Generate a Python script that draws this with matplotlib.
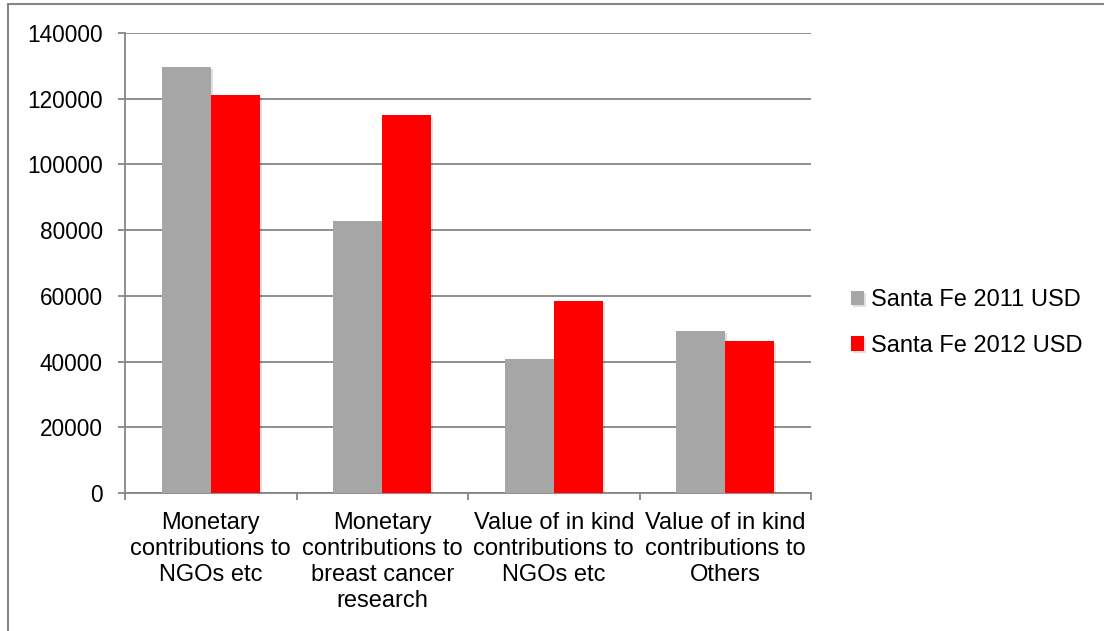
import matplotlib
matplotlib.use("Agg")
import matplotlib.pyplot as plt
import matplotlib.patheffects as pe
from matplotlib.patches import Rectangle
import numpy as np

categories = [
    "Monetary\ncontributions to\nNGOs etc",
    "Monetary\ncontributions to\nbreast cancer\nresearch",
    "Value of in kind\ncontributions to\nNGOs etc",
    "Value of in kind\ncontributions to\nOthers",
]
series_names = ["Santa Fe 2011 USD", "Santa Fe 2012 USD"]
values_2011 = [129800, 82700, 40700, 49300]
values_2012 = [121250, 114900, 58550, 46200]
colors = ["#a6a6a6", "#ff0000"]

grid_color = "#868686"
font = ["Liberation Sans", "DejaVu Sans"]

fig = plt.figure(figsize=(11.04, 6.31), dpi=100)
W, H = 1104, 631
ax = fig.add_axes([125 / W, (H - 493) / H, 686 / W, 460 / H])

x = np.arange(len(categories))
bw = 1 / 3.5
shadow = [pe.SimplePatchShadow(offset=(1.5, -1.5), shadow_rgbFace="#000000", alpha=0.12), pe.Normal()]
for i, (vals, name) in enumerate(zip([values_2011, values_2012], series_names)):
    bars = ax.bar(x + (i - 0.5) * bw, vals, width=bw, color=colors[i], label=name, zorder=3)
    for b in bars:
        b.set_path_effects(shadow)

ax.set_xlim(-0.5, len(categories) - 0.5)
ax.set_ylim(0, 140000)
ax.set_yticks(np.arange(0, 140001, 20000))
ax.set_yticklabels([str(v) for v in range(0, 140001, 20000)], fontfamily=font, fontsize=16.3)
ax.yaxis.grid(True, color=grid_color, linewidth=1.3, zorder=0)
ax.set_axisbelow(True)

# category boundary ticks below the baseline
ax.set_xticks(np.arange(-0.5, len(categories), 1.0))
ax.set_xticklabels([])
ax.set_xticks(x, minor=True)
ax.set_xticklabels(categories, minor=True, fontfamily=font, fontsize=17, linespacing=1.22)
ax.tick_params(axis="x", which="minor", length=0, pad=14)
ax.tick_params(axis="x", which="major", length=5, width=1.3, color=grid_color)
ax.tick_params(axis="y", length=5, width=1.3, color=grid_color, pad=11)

for s in ["top", "right"]:
    ax.spines[s].set_visible(False)
for s in ["left", "bottom"]:
    ax.spines[s].set_color(grid_color)
    ax.spines[s].set_linewidth(1.3)

leg = fig.legend(loc="center left", bbox_to_anchor=(851 / W, (H - 323) / H),
                 frameon=False, prop={"family": font, "size": 17},
                 handlelength=0.55, handleheight=0.55, handletextpad=0.3,
                 labelspacing=1.0, borderaxespad=0, borderpad=0)

# outer chart border
fig.patches.append(Rectangle((8 / W, -0.1), 1.2, 1 - 4 / H + 0.1, transform=fig.transFigure,
                             fill=False, edgecolor=grid_color, linewidth=1.5))

fig.savefig("out.png", dpi=100)
